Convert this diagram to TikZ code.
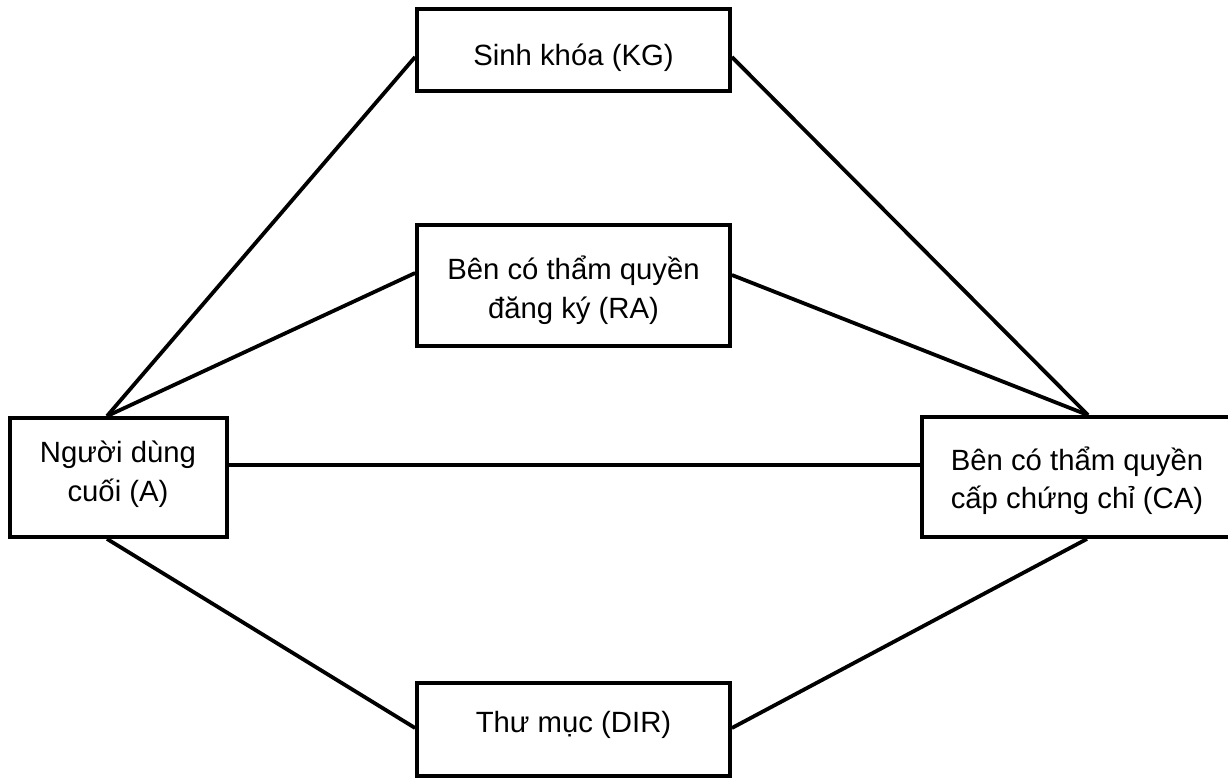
\documentclass[tikz,border=0pt]{standalone}
\usepackage{fontspec}
\setmainfont{Liberation Sans}
\usetikzlibrary{calc}
\begin{document}
\begin{tikzpicture}[x=1pt,y=-1pt,
  box/.style={draw, line width=3.8pt, inner sep=0pt},
  lbl/.style={anchor=base, inner sep=0pt, font=\fontsize{29.3}{38.5}\selectfont},
  link/.style={line width=3.8pt}]
\useasboundingbox (0,0) rectangle (1228,778);

% the five parties
\node[box, minimum width=313pt, minimum height=82pt]  (kg)  at (573.5,50)    {};
\node[box, minimum width=313pt, minimum height=121pt] (ra)  at (573.5,285.5) {};
\node[box, minimum width=217pt, minimum height=119pt] (a)   at (118.5,477.5) {};
\node[box, minimum width=310pt, minimum height=120pt] (ca)  at (1077,477)    {};
\node[box, minimum width=313pt, minimum height=93pt]  (dir) at (573.5,729.5) {};

% their names, line by line on fixed baselines
\node[lbl] (kg-1)  at ($(kg)+(0,16)$)      {Sinh khóa (KG)};
\node[lbl] (ra-1)  at ($(ra)+(0,-6)$)      {Bên có thẩm quyền};
\node[lbl] (ra-2)  at ($(ra)+(0,32.5)$)    {đăng ký (RA)};
\node[lbl] (a-1)   at ($(a)+(-0.5,-15)$)   {Người dùng};
\node[lbl] (a-2)   at ($(a)+(-0.5,23.5)$)  {cuối (A)};
\node[lbl] (ca-1)  at ($(ca)+(0,-6.3)$)    {Bên có thẩm quyền};
\node[lbl] (ca-2)  at ($(ca)+(0,31.5)$)    {cấp chứng chỉ (CA)};
\node[lbl] (dir-1) at ($(dir)+(0,2.5)$)    {Thư mục (DIR)};

% relations between them
\draw[link] ($(a.north)+(-11.5,0)$) -- ($(kg.west)+(0,7)$);
\draw[link] ($(a.north)+(-11.5,0)$) -- ($(ra.west)+(0,-12.5)$);
\draw[link] ($(a.east)+(0,-12.5)$)  -- ($(ca.west)+(0,-12)$);
\draw[link] ($(a.south)+(-11.5,0)$) -- ($(dir.west)+(0,-1.5)$);
\draw[link] ($(ca.north)+(11,0)$)   -- ($(kg.east)+(0,7)$);
\draw[link] ($(ca.north)+(11,0)$)   -- ($(ra.east)+(0,-10.5)$);
\draw[link] ($(ca.south)+(10,0)$)   -- ($(dir.east)+(0,-1.5)$);
\end{tikzpicture}
\end{document}
